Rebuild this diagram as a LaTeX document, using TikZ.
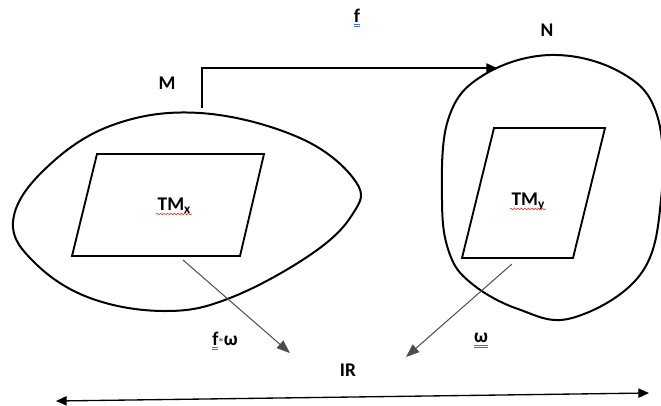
\documentclass[tikz,border=0pt]{standalone}
\usepackage{fontspec}
\setmainfont{Carlito}
\usepackage{tikz}
\usetikzlibrary{arrows.meta}
\usetikzlibrary{decorations.pathmorphing}
\definecolor{ulblue}{RGB}{70,110,220}
\definecolor{wavyred}{RGB}{230,60,60}
\newcommand{\gramul}[1]{{\color{ulblue}$\underline{\underline{\mbox{\color{black}#1}}}$}}

\begin{document}
\begin{tikzpicture}[x=0.75pt,y=-0.75pt,
		lbl/.style={font=\bfseries\fontsize{14.5}{16}\selectfont, inner sep=1pt},
		blob/.style={line width=1.5pt},
		sheet/.style={line width=1.4pt},
		map/.style={line width=0.9pt, -{Triangle[length=8pt,width=7pt]}},
		pull/.style={line width=0.75pt, draw=black!70, -{Triangle[length=10pt,width=7.5pt]}},
		wavy/.style={wavyred, line width=0.5pt, decorate, decoration={snake, amplitude=0.6pt, segment length=2.6pt}}]
				\useasboundingbox (0,0) rectangle (661,405);
				
				% the two manifolds
				\draw[blob] plot[smooth cycle, tension=0.65] coordinates {(13,222) (42,172) (110,126) (200,113) (300,138) (356,182) (352,215) (310,255) (230,298) (165,311) (90,298) (35,263)};
				\draw[blob] plot[smooth cycle, tension=0.65] coordinates {(550,55) (620,72) (657,115) (661,200) (640,275) (572,318) (518,309) (471,283) (449,252) (442,200) (448,120) (482,76)};
				
				% tangent spaces
				\draw[sheet] (97,154) -- (264,154) -- (240,256) -- (72,256) -- cycle;
				\draw[sheet] (494,128) -- (605,128) -- (573,258) -- (462,258) -- cycle;
				
				\node[lbl] (M) at (167,83) {M};
				\node[lbl] (N) at (547,30) {N};
				\node[lbl] (f) at (357,18) {\gramul{f}};
				\node[lbl] (tmx) at (174,206) {TM\raisebox{-0.35ex}{\normalsize x}};
				\node[lbl] (tmy) at (528,202) {TM\raisebox{-0.35ex}{\normalsize y}};
				\node[lbl] (fw) at (225,341) {\gramul{f}\raisebox{0.3ex}{\scriptsize$\ast$}ω};
				\node[lbl] (w) at (481,341) {\gramul{ω}};
				\node[lbl] (R) at (348,370) {IR};
				
				\draw[wavy] ([yshift=-2.5pt]tmx.base west) -- ([yshift=-2.5pt]tmx.base east);
				\draw[wavy] ([yshift=-2.5pt]tmy.base west) -- ([yshift=-2.5pt]tmy.base east);
				
				\coordinate (Mtop) at (202,108);
				\coordinate (Ntip) at (497,68);
				\coordinate (xfoot) at (183,260);
				\coordinate (yfoot) at (512,264);
				\coordinate (Rl) at (290,353);
				\coordinate (Rr) at (406,357);
				\coordinate (lineL) at (56,401);
				\coordinate (lineR) at (649,393);
				
				\draw[map] (Mtop) |- (Ntip);
				\draw[pull] (xfoot) -- (Rl);
				\draw[pull] (yfoot) -- (Rr);
				\draw[line width=1pt, {Triangle[length=8pt,width=7pt]}-{Triangle[length=8pt,width=7pt]}] (lineL) -- (lineR);
			\end{tikzpicture}
\end{document}
